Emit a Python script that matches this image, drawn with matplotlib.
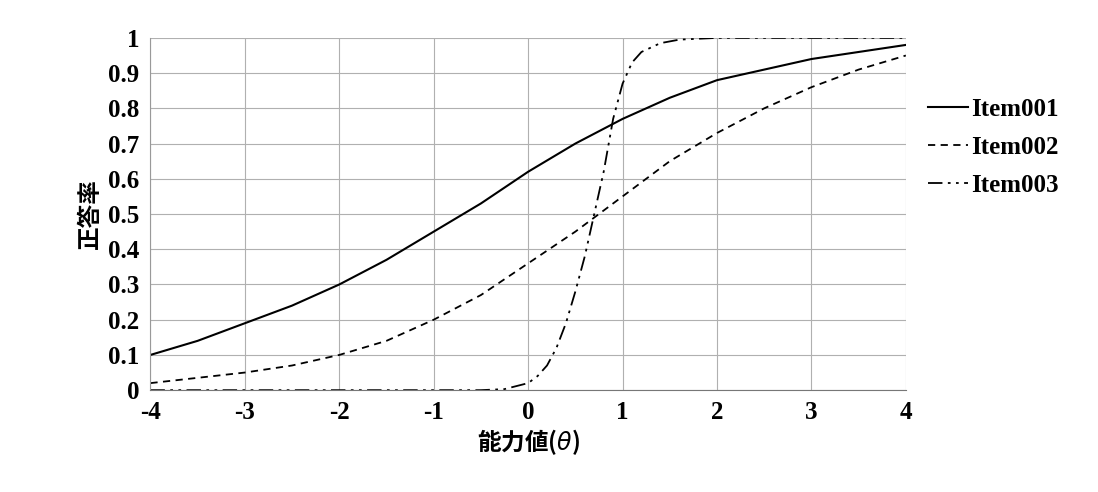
import matplotlib
matplotlib.use("Agg")
import matplotlib.pyplot as plt

theta = [-4,-3.5,-3,-2.5,-2,-1.5,-1,-0.5,0,0.5,1,1.5,2,2.5,3,3.5,4]
item001 = [0.10,0.14,0.19,0.24,0.30,0.37,0.45,0.53,0.62,0.70,0.77,0.83,0.88,0.91,0.94,0.96,0.98]
item002 = [0.02,0.035,0.05,0.07,0.10,0.14,0.20,0.27,0.36,0.45,0.55,0.65,0.73,0.80,0.86,0.91,0.95]
theta3 = [-4,-3,-2,-1,-0.5,-0.25,0,0.1,0.2,0.3,0.4,0.5,0.6,0.7,0.8,0.9,1.0,1.1,1.2,1.4,1.6,2,3,4]
item003 = [0,0,0,0,0,0.003,0.02,0.04,0.07,0.12,0.19,0.28,0.38,0.50,0.62,0.77,0.87,0.93,0.96,0.985,0.995,1.0,1.0,1.0]

plt.rcParams['font.family'] = ['Liberation Serif','Noto Sans CJK JP']
plt.rcParams['axes.unicode_minus'] = False
fig = plt.figure(figsize=(10.98,4.92), dpi=100)
ax = fig.add_axes([0.137, 0.207, 0.688, 0.716])
ax.plot(theta, item001, color='black', lw=1.5, label='Item001')
ax.plot(theta, item002, color='black', lw=1.3, ls=(0,(4,3)), label='Item002')
ax.plot(theta3, item003, color='black', lw=1.3, ls=(0,(8,3,1.5,3,1.5,3)), label='Item003')
ax.set_xlim(-4,4); ax.set_ylim(0,1)
ax.set_xticks(range(-4,5))
ax.set_yticks([i/10 for i in range(11)])
ax.set_yticklabels(['0']+[f'0.{i}' for i in range(1,10)]+['1'])
ax.grid(True, color='#b0b0b0', lw=0.8)
for s in ['top','right']: ax.spines[s].set_visible(False)
ax.spines['left'].set_color('#999999'); ax.spines['bottom'].set_color('#777777')
ax.tick_params(length=0, labelsize=18, pad=8)
for t in ax.get_xticklabels()+ax.get_yticklabels(): t.set_fontweight('bold')
ax.set_xlabel('能力値($\\theta$)', fontsize=17, fontweight='bold', family=['Noto Sans CJK JP'], labelpad=2)
ax.set_ylabel('正答率', fontsize=17, fontweight='bold', family=['Noto Sans CJK JP'], labelpad=4)
leg = ax.legend(loc='center left', bbox_to_anchor=(1.0, 0.69), frameon=False, fontsize=18,
          handlelength=1.6, handletextpad=0.1, labelspacing=0.6)
for t in leg.get_texts(): t.set_fontweight('bold')
fig.savefig('out.png', dpi=100)
